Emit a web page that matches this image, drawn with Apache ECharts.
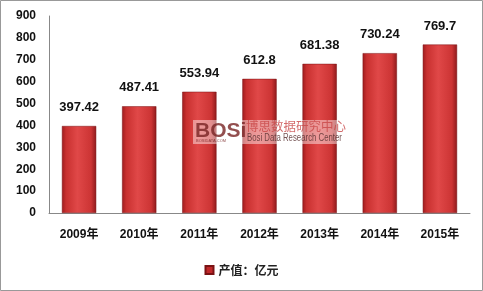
<!DOCTYPE html>
<html><head><meta charset="utf-8">
<script src="https://cdn.jsdelivr.net/npm/echarts@6/dist/echarts.min.js"></script>
<style>html,body{margin:0;padding:0;background:#fff}#c{width:483px;height:291px}</style>
</head><body><div id="c"></div>
<script>
const categories = ['2009年','2010年','2011年','2012年','2013年','2014年','2015年'];
const values = [397.42, 487.41, 553.94, 612.8, 681.38, 730.24, 769.7];
const yTicks = [0,100,200,300,400,500,600,700,800,900];
const seriesName = '产值：亿元';

const chart = echarts.init(document.getElementById('c'));
const grad = new echarts.graphic.LinearGradient(0,0,1,0,[
  {offset:0,color:'#9e1c1e'},{offset:0.12,color:'#c8302f'},{offset:0.45,color:'#e04848'},
  {offset:0.85,color:'#cc3434'},{offset:1,color:'#8e1a1c'}]);
chart.setOption({
  animation:false,
  textStyle:{fontFamily:'"Liberation Sans", "Noto Sans CJK SC", sans-serif'},
  grid:{left:49,right:13,top:16,bottom:78},
  legend:{bottom:10,left:'center',itemWidth:8,itemHeight:8,icon:'rect',
    textStyle:{fontSize:12,fontWeight:'bold',color:'#222',fontFamily:'"Noto Sans CJK SC", sans-serif'},
    data:[{name:seriesName,itemStyle:{color:'#c0282a'}}]},
  xAxis:{type:'category',data:categories,
    axisLine:{lineStyle:{color:'#888'}},axisTick:{show:false},
    axisLabel:{color:'#111',fontSize:12,fontWeight:'bold',margin:16,fontFamily:'"Liberation Sans", "Noto Sans CJK SC", sans-serif'}},
  yAxis:{type:'value',min:yTicks[0],max:yTicks[yTicks.length-1],interval:100,
    axisLine:{show:true,lineStyle:{color:'#888'}},axisTick:{show:false},splitLine:{show:false},
    axisLabel:{color:'#111',fontSize:12,fontWeight:'bold',margin:13}},
  series:[{name:seriesName,type:'bar',data:values,barWidth:'57%',
    itemStyle:{color:grad,borderColor:'#7a1214',borderWidth:0.5},
    label:{show:true,position:'top',distance:12,color:'#111',fontSize:13,fontWeight:'bold'}}],
  graphic:[
    {type:'rect',shape:{x:0.5,y:0.5,width:482,height:290},style:{fill:'none',stroke:'#999',lineWidth:1},z:100},
    {type:'rect',shape:{x:193,y:120,width:156,height:24},style:{fill:'rgba(255,255,255,0.45)'},z:100},
    {type:'text',x:195,y:121,z:101,style:{text:'BOSi',font:'bold 21px "Liberation Sans"',fill:'rgba(120,35,35,0.8)'}},
    {type:'text',x:196,y:139,z:101,style:{text:'BOSIDATA.COM',font:'4px "Liberation Sans"',fill:'rgba(120,35,35,0.8)'}},
    {type:'text',x:246,y:120,z:101,style:{text:'博思数据研究中心',font:'12.5px "Noto Sans CJK SC"',fill:'rgba(200,70,70,0.8)'}},
    {type:'text',x:247,y:133,z:101,scaleX:0.78,style:{text:'Bosi Data Research Center',font:'10px "Liberation Sans"',fill:'rgba(90,50,50,0.85)'}}
  ]
});
</script></body></html>
